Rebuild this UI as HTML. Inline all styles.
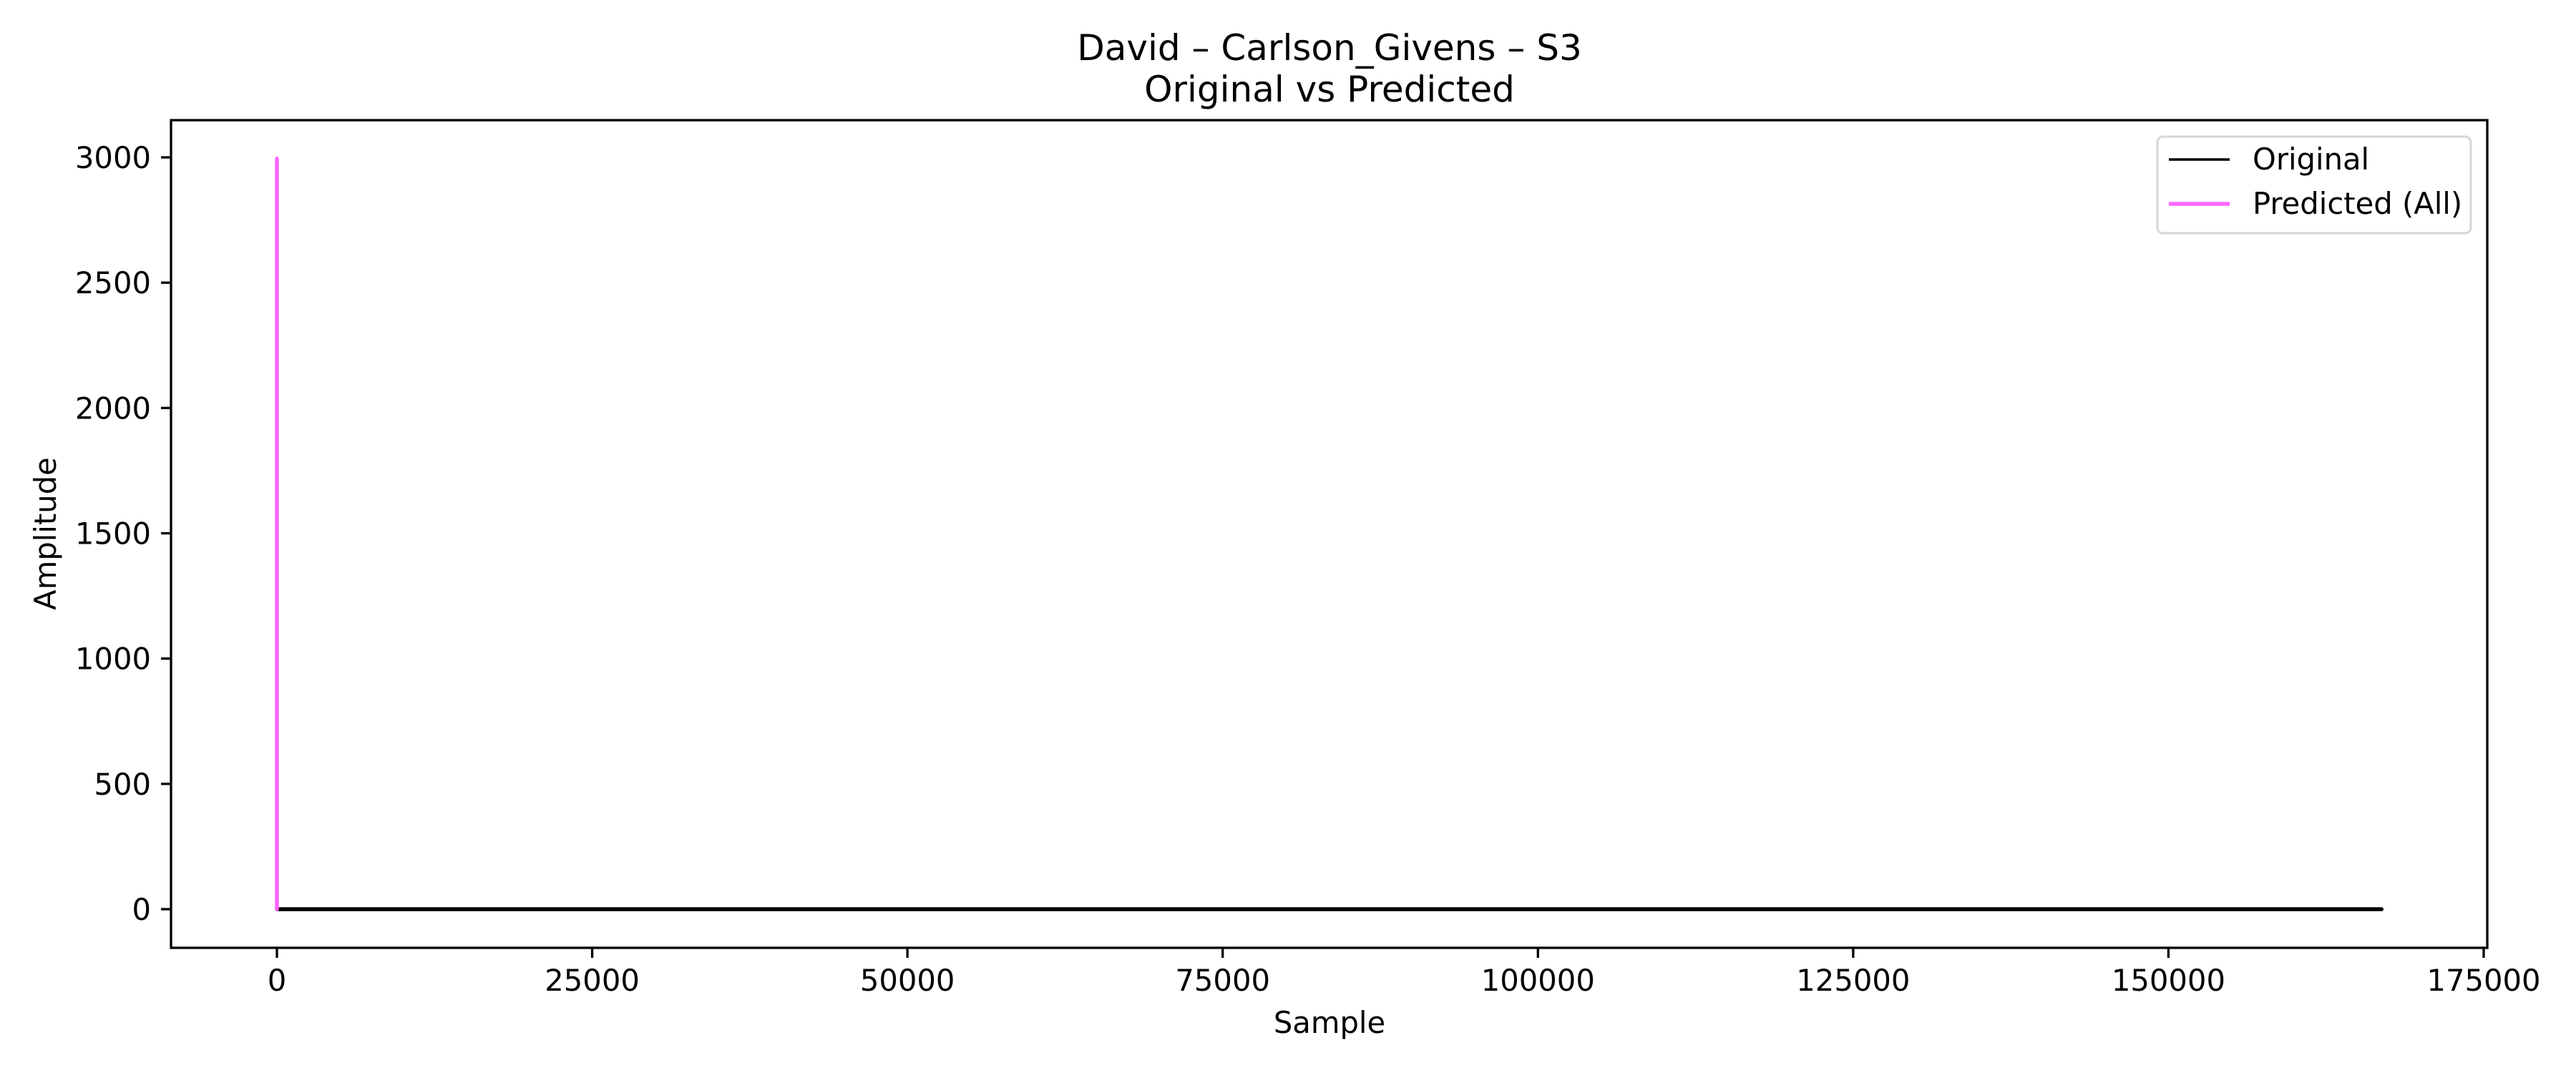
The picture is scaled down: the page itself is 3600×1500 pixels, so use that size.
<!DOCTYPE html>
<html><head><meta charset="utf-8"><style>
html,body{margin:0;padding:0;background:#fff}
svg{display:block;font-family:"DejaVu Sans","Liberation Sans",sans-serif}
</style></head><body>
<svg id="chart" width="3600" height="1500" viewBox="0 0 3600 1500">
<g id="plot"></g>
</svg>
<script>
const xTicks=[0,25000,50000,75000,100000,125000,150000,175000];
const yTicks=[0,500,1000,1500,2000,2500,3000];
const originalX=[0,166900];
const originalY=[0,0];
const predictedX=[0,0];
const predictedY=[0,2995];
const NS="http://www.w3.org/2000/svg";
const L=239,R=3476,T=168,B=1325;
function sx(v){return 387+(v-0)*(3471-387)/175000;}
function sy(v){return 1271-(v)*(1271-220)/3000;}
const g=document.getElementById('plot');
function mk(t,a,p){const e=document.createElementNS(NS,t);for(const k in a)e.setAttribute(k,a[k]);(p||g).appendChild(e);return e;}
function path(xs,ys){return xs.map((x,i)=>(i?'L':'M')+sx(x).toFixed(1)+','+sy(ys[i]).toFixed(1)).join(' ');}
const po=mk('path',{d:path(originalX,originalY),stroke:'#000',fill:'none','stroke-width':5.5,'stroke-linecap':'round'});


const pp=mk('path',{d:path(predictedX,predictedY),stroke:'#ff66ff',fill:'none','stroke-width':5.5,'stroke-linecap':'round'});


const fr=mk('rect',{x:L,y:T,width:R-L,height:B-T,fill:'none',stroke:'#000','stroke-width':3.3});


xTicks.forEach(v=>{
  const x=sx(v);
  const tk=mk('line',{x1:x,x2:x,y1:B,y2:B+14,stroke:'#000','stroke-width':3.3});
  
  
  const t=mk('text',{x:x,y:B+60,'text-anchor':'middle','font-size':41.7});
  t.textContent=v;
  
  
});
yTicks.forEach(v=>{
  const y=sy(v);
  const tk=mk('line',{x1:L-14,x2:L,y1:y,y2:y,stroke:'#000','stroke-width':3.3});
  
  
  const t=mk('text',{x:L-28,y:y+15,'text-anchor':'end','font-size':41.7});
  t.textContent=v;
  
  
});
</script>
<svg width="3600" height="1500" style="position:absolute;left:0;top:0" viewBox="0 0 3600 1500">
<text x="1858" y="84" text-anchor="middle" font-size="50" font-family="DejaVu Sans, Liberation Sans, sans-serif">David – Carlson_Givens – S3</text>
<text x="1858" y="142" text-anchor="middle" font-size="50" font-family="DejaVu Sans, Liberation Sans, sans-serif">Original vs Predicted</text>
<text x="1858" y="1444" text-anchor="middle" font-size="41.7" font-family="DejaVu Sans, Liberation Sans, sans-serif">Sample</text>
<text x="0" y="0" transform="translate(78,746) rotate(-90)" text-anchor="middle" font-size="41.7" font-family="DejaVu Sans, Liberation Sans, sans-serif">Amplitude</text>
<g font-family="DejaVu Sans, Liberation Sans, sans-serif" font-size="41.7">
<rect x="3015" y="191" width="438" height="135" rx="8" fill="#fff" fill-opacity="0.8" stroke="#d6d6d6" stroke-width="3"/>
<line x1="3031" x2="3116" y1="223" y2="223" stroke="#000" stroke-width="3.5"/>
<text x="3148" y="237">Original</text>
<line x1="3031" x2="3116" y1="285" y2="285" stroke="#ff66ff" stroke-width="5.5"/>
<text x="3148" y="299">Predicted (All)</text>
</g>
</svg>
</body></html>
